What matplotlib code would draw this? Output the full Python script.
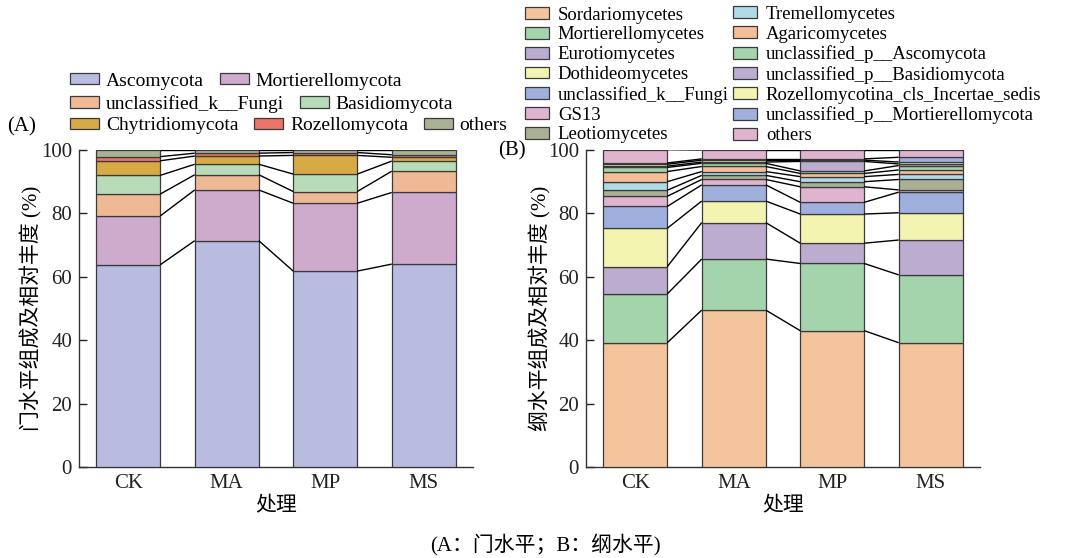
import numpy as np
import matplotlib
matplotlib.use("Agg")
import matplotlib.pyplot as plt
from matplotlib.patches import Patch

plt.rcParams['font.family'] = ['Liberation Serif', 'Noto Sans CJK SC']

groups = ["CK", "MA", "MP", "MS"]

# Panel A: phylum level (%)
phyla = ["Ascomycota", "Mortierellomycota", "unclassified_k__Fungi", "Basidiomycota",
         "Chytridiomycota", "Rozellomycota", "others"]
phylum_vals = {
    "Ascomycota":            [63.8, 71.4, 61.8, 64.0],
    "Mortierellomycota":     [15.4, 16.0, 21.4, 22.6],
    "unclassified_k__Fungi": [6.9, 4.8, 3.7, 6.7],
    "Basidiomycota":         [5.9, 3.3, 5.5, 3.2],
    "Chytridiomycota":       [4.6, 2.6, 5.9, 1.2],
    "Rozellomycota":         [1.3, 0.9, 0.9, 0.8],
    "others":                [2.1, 1.0, 0.8, 1.5],
}
phylum_colors = ["#b8bce0", "#ceaacc", "#f0b996", "#b7dcb7", "#d8aa46", "#ec7468", "#aab296"]

# Panel B: class level (%)
classes = ["Sordariomycetes", "Mortierellomycetes", "Eurotiomycetes", "Dothideomycetes",
           "unclassified_k__Fungi", "GS13", "Leotiomycetes", "Tremellomycetes",
           "Agaricomycetes", "unclassified_p__Ascomycota", "unclassified_p__Basidiomycota",
           "Rozellomycotina_cls_Incertae_sedis", "unclassified_p__Mortierellomycota", "others"]
class_vals = {
    "Sordariomycetes":                    [39.2, 49.5, 43.0, 39.2],
    "Mortierellomycetes":                 [15.4, 16.1, 21.2, 21.4],
    "Eurotiomycetes":                     [8.6, 11.5, 6.4, 11.0],
    "Dothideomycetes":                    [12.1, 6.8, 9.2, 8.6],
    "unclassified_k__Fungi":              [6.9, 5.1, 3.7, 6.5],
    "GS13":                               [3.2, 1.7, 4.9, 0.7],
    "Leotiomycetes":                      [1.9, 1.3, 1.6, 3.3],
    "Tremellomycetes":                    [2.7, 1.2, 1.6, 1.6],
    "Agaricomycetes":                     [3.2, 1.6, 1.0, 1.4],
    "unclassified_p__Ascomycota":         [1.3, 1.0, 0.8, 1.4],
    "unclassified_p__Basidiomycota":      [0.4, 0.4, 3.0, 0.5],
    "Rozellomycotina_cls_Incertae_sedis": [0.6, 0.6, 0.4, 0.6],
    "unclassified_p__Mortierellomycota":  [0.4, 0.4, 0.4, 1.5],
    "others":                             [4.2, 2.8, 2.8, 2.3],
}
class_colors = ["#f4c49c", "#a4d4ac", "#bcacd0", "#f2f4b0", "#a0b0de", "#e0b4d0", "#aab096",
                "#b0dae8", "#f4be96", "#a4d4ac", "#bcacd0", "#f2f4b0", "#a0b0de", "#e0b4d0"]

yticks = [0, 20, 40, 60, 80, 100]

W, H = 1087, 558
fig = plt.figure(figsize=(W / 100, H / 100), dpi=100)

BAR_W = 0.65
EDGE = "#3a3a3a"


def draw_panel(ax, names, vals, colors, ylabel, ylab_x):
    x = np.arange(len(groups))
    bottom = np.zeros(len(groups))
    tops = []
    for name, c in zip(names, colors):
        v = np.array(vals[name], dtype=float)
        ax.bar(x, v, BAR_W, bottom=bottom, color=c, edgecolor=EDGE, linewidth=0.9, zorder=3)
        bottom = bottom + v
        tops.append(bottom.copy())
    # connecting lines between adjacent bars
    for t in tops:
        for i in range(len(groups) - 1):
            ax.plot([x[i] + BAR_W / 2, x[i + 1] - BAR_W / 2], [t[i], t[i + 1]],
                    color="black", lw=1.0, zorder=4, solid_capstyle="butt")
    ax.set_xlim(-0.5, 3.5)
    ax.set_ylim(0, 100)
    ax.set_yticks(yticks)
    ax.set_yticklabels([str(t) for t in yticks], fontsize=15)
    ax.set_xticks(x)
    ax.set_xticklabels(groups, fontsize=15)
    ax.tick_params(direction="in", length=6, width=1, colors="#222222", pad=5)
    for s in ["top", "right"]:
        ax.spines[s].set_visible(False)
    for s in ["left", "bottom"]:
        ax.spines[s].set_color("#333333")
        ax.spines[s].set_linewidth(1.0)
    ax.set_xlabel("处理", fontsize=15, va="center")
    ax.xaxis.set_label_coords(0.5, -(507 - 467) / 317)
    ax.set_ylabel(ylabel, fontsize=15, va="center")
    ax.yaxis.set_label_coords(ylab_x, 0.5)


axA = fig.add_axes([79 / W, 1 - 467 / H, 394 / W, 317 / H])
axB = fig.add_axes([586 / W, 1 - 467 / H, 394 / W, 317 / H])

draw_panel(axA, phyla, phylum_vals, phylum_colors, "门水平组成及相对丰度 (%)", (31 - 79) / 394)
draw_panel(axB, classes, class_vals, class_colors, "纲水平组成及相对丰度 (%)", (540 - 586) / 394)

# Panel A legend: flowing rows
rows = [[0, 1], [2, 3], [4, 5, 6]]
row_y = [81, 104, 126]
for r, yy in zip(rows, row_y):
    handles = [Patch(facecolor=phylum_colors[i], edgecolor=EDGE, linewidth=0.9) for i in r]
    labels = [phyla[i] for i in r]
    fig.legend(handles, labels, loc="center left", bbox_to_anchor=(70 / W, 1 - yy / H),
               ncol=len(r), frameon=False, fontsize=14, borderpad=0, borderaxespad=0,
               handlelength=1.5, handleheight=0.5, handletextpad=0.35, columnspacing=0.8)

# Panel B legend: two columns placed separately
for col, x0 in ((0, 525), (1, 733)):
    idx = range(col * 7, col * 7 + 7)
    handlesB = [Patch(facecolor=class_colors[i], edgecolor=EDGE, linewidth=0.9) for i in idx]
    labelsB = [classes[i] for i in idx]
    fig.legend(handlesB, labelsB, loc="center left", bbox_to_anchor=(x0 / W, 1 - 75 / H),
               ncol=1, frameon=False, fontsize=13.5, borderpad=0, borderaxespad=0,
               handlelength=1.3, handleheight=0.6, handletextpad=0.45,
               labelspacing=0.15)

fig.text(22 / W, 1 - 127 / H, "(A)", fontsize=15, ha="center", va="center")
fig.text(512 / W, 1 - 151 / H, "(B)", fontsize=15, ha="center", va="center")
fig.text(545 / W, 1 - 545 / H, "(A：门水平；B：纲水平)", fontsize=15, ha="center", va="center")

fig.savefig("out.png", dpi=100)
